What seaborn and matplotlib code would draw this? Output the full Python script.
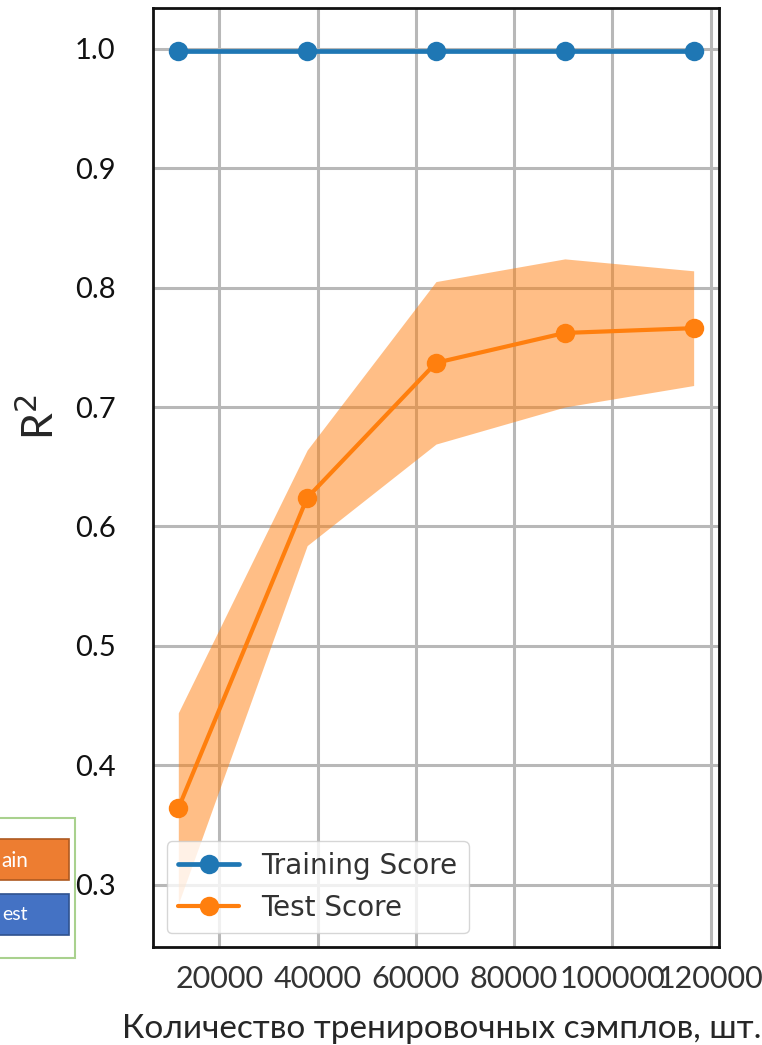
import matplotlib.pyplot as plt
import seaborn as sns
from matplotlib.patches import Rectangle

# данные кривой обучения
train_sizes = [11650, 37880, 64100, 90320, 116540]
train_mean = [0.998, 0.998, 0.998, 0.998, 0.998]
test_mean = [0.364, 0.624, 0.737, 0.762, 0.766]
test_std = [0.080, 0.040, 0.068, 0.062, 0.048]

x_ticks = [20000, 40000, 60000, 80000, 100000, 120000]
y_ticks = [0.3, 0.4, 0.5, 0.6, 0.7, 0.8, 0.9, 1.0]

W, H = 762, 1045


def fx(px):
    return px / W


def fy(py):
    return 1 - py / H


sns.set_style('whitegrid', {'grid.color': '#b8b8b8', 'axes.edgecolor': '#111111'})

fig = plt.figure(figsize=(W / 100, H / 100), dpi=100)
ax = fig.add_axes([fx(153), fy(947), fx(719) - fx(153), fy(8) - fy(947)])

lower = [m - s for m, s in zip(test_mean, test_std)]
upper = [m + s for m, s in zip(test_mean, test_std)]
ax.fill_between(train_sizes, lower, upper, color='#ff7f0e', alpha=0.5, lw=0)

sns.lineplot(x=train_sizes, y=train_mean, ax=ax, color='#1f77b4', marker='o',
             markersize=14, markeredgewidth=0, linewidth=3.4, label='Training Score')
sns.lineplot(x=train_sizes, y=test_mean, ax=ax, color='#ff7f0e', marker='o',
             markersize=14, markeredgewidth=0, linewidth=3.0, label='Test Score')

ax.set_xlim(6500, 121700)
ax.set_ylim(0.248, 1.034)
ax.set_xticks(x_ticks)
ax.set_yticks(y_ticks)
ax.grid(True, linewidth=2.2)
for sp in ax.spines.values():
    sp.set_linewidth(2)

ax.tick_params(axis='both', length=7, width=2, color='#777777', direction='out')
ax.tick_params(axis='x', labelsize=22, pad=6, labelcolor='#333333', labelfontfamily='Lato')
ax.tick_params(axis='y', labelsize=21, pad=20, labelcolor='#111111', labelfontfamily='Lato')
ax.set_xlabel('')
ax.set_ylabel('')

leg = ax.legend(loc='lower left', fontsize=20, framealpha=0.8, handlelength=2.2,
                labelcolor='#333333', edgecolor='#cccccc', borderaxespad=0.5)

# подписи осей
fig.text(fx(40), fy(417), 'R$^{2}$', rotation=90, ha='center', va='center',
         fontsize=31, family='Lato')
fig.text(fx(442), fy(1038), 'Количество тренировочных сэмплов, шт.', ha='center',
         va='baseline', fontsize=24, family='Lato')

# обрезанная легенда слева
fig.add_artist(Rectangle((fx(-3), fy(958)), fx(78), fy(818) - fy(958),
                         transform=fig.transFigure, facecolor='white',
                         edgecolor='#a9d18e', lw=1.5))
fig.add_artist(Rectangle((fx(-3), fy(880)), fx(72), fy(839) - fy(880),
                         transform=fig.transFigure, facecolor='#ed7d31',
                         edgecolor='#ae5a21', lw=1.2))
fig.add_artist(Rectangle((fx(-3), fy(935)), fx(72), fy(894) - fy(935),
                         transform=fig.transFigure, facecolor='#4472c4',
                         edgecolor='#2f528f', lw=1.2))
fig.text(fx(28), fy(861), 'ain', color='white', ha='right', va='center',
         fontsize=15, family='Lato')
fig.text(fx(28), fy(915), 'est', color='white', ha='right', va='center',
         fontsize=14, family='Lato')

fig.savefig('out.png', dpi=100)
